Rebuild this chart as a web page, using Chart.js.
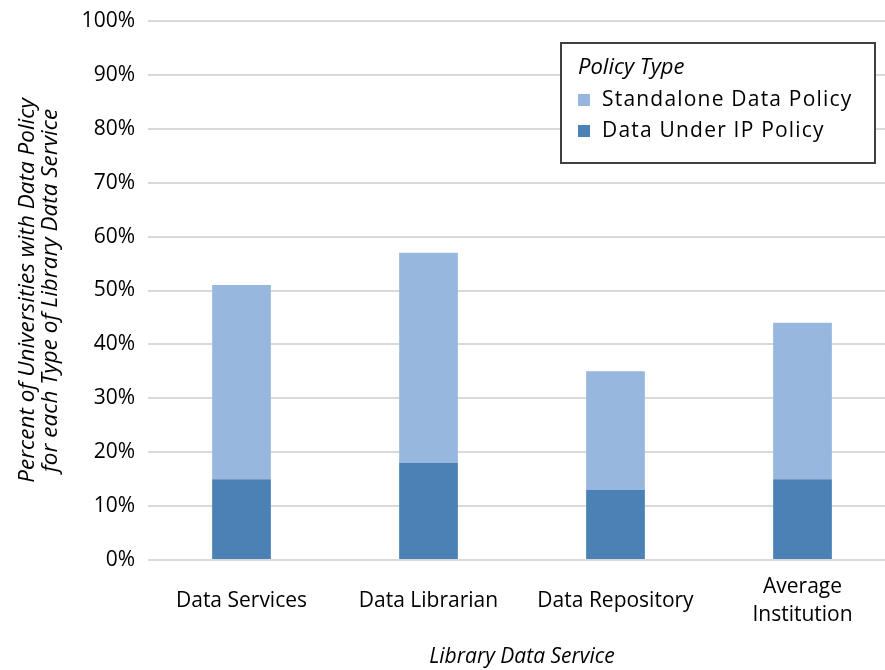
<!DOCTYPE html>
<html>
<head>
<meta charset="utf-8">
<script src="https://cdn.jsdelivr.net/npm/chart.js@4.4.1/dist/chart.umd.min.js"></script>
<style>
  html, body { margin: 0; padding: 0; background: #fff; }
  #wrap { width: 885px; height: 670px; overflow: hidden; }
  #box { width: 896px; height: 670px; position: relative; }
</style>
</head>
<body>
<div id="wrap"><div id="box"><canvas id="policyChart"></canvas></div></div>
<script>
// data (percent of universities)
const services = ['Data Services', 'Data Librarian', 'Data Repository', ['Average', 'Institution']];
const underIpPolicy = [15, 18, 13, 15];
const standalonePolicy = [36, 39, 22, 29];
const yTicks = [0, 10, 20, 30, 40, 50, 60, 70, 80, 90, 100];

const darkBlue = '#4b81b5';
const lightBlue = '#98b7de';
const fontName = "'Open Sans', sans-serif";

// boxed legend drawn inside the plot, like the original
const legendBox = {
  id: 'legendBox',
  afterDraw(chart) {
    const ctx = chart.ctx;
    ctx.save();
    ctx.fillStyle = '#fff';
    ctx.fillRect(561, 43, 314, 120);
    ctx.strokeStyle = '#404040';
    ctx.lineWidth = 2;
    ctx.strokeRect(561, 43, 314, 120);

    ctx.fillStyle = '#000';
    ctx.textBaseline = 'middle';
    ctx.textAlign = 'left';
    ctx.font = 'italic 22px ' + fontName;
    ctx.fillText('Policy Type', 578, 68);

    const items = [chart.data.datasets[1], chart.data.datasets[0]];
    const rows = [100, 131];
    ctx.font = '21px ' + fontName;
    ctx.letterSpacing = '1.2px';
    items.forEach((ds, i) => {
      ctx.fillStyle = ds.backgroundColor;
      ctx.fillRect(578, rows[i] - 6, 12, 12);
      ctx.fillStyle = '#000';
      ctx.fillText(ds.label, 602, rows[i]);
    });
    ctx.restore();
  }
};

const ctx = document.getElementById('policyChart').getContext('2d');
const policyChart = new Chart(ctx, {
  type: 'bar',
  data: {
    labels: services,
    datasets: [{
      label: 'Data Under IP Policy',
      data: underIpPolicy,
      backgroundColor: darkBlue,
      borderWidth: 0,
      barPercentage: 0.314,
      categoryPercentage: 1
    }, {
      label: 'Standalone Data Policy',
      data: standalonePolicy,
      backgroundColor: lightBlue,
      borderWidth: 0,
      barPercentage: 0.314,
      categoryPercentage: 1
    }]
  },
  options: {
    responsive: true,
    maintainAspectRatio: false,
    animation: false,
    layout: { padding: 0 },
    plugins: {
      legend: { display: false },
      tooltip: { enabled: false }
    },
    scales: {
      x: {
        stacked: true,
        grid: { display: false, drawTicks: false },
        border: { display: false },
        ticks: {
          color: '#000',
          font: { family: fontName, size: 21, lineHeight: 1.33 },
          padding: 27,
          crossAlign: 'center',
          maxRotation: 0,
          autoSkip: false
        },
        title: {
          display: true,
          text: 'Library Data Service',
          color: '#000',
          font: { family: fontName, size: 21, style: 'italic' },
          padding: { top: 0, bottom: 0 }
        },
        afterFit: (s) => { s.height = 110; }
      },
      y: {
        stacked: true,
        min: 0,
        max: 100,
        afterBuildTicks: (s) => { s.ticks = yTicks.map(v => ({ value: v })); },
        grid: { color: '#d9d9d9', lineWidth: 2, drawTicks: false },
        border: { display: false },
        ticks: {
          color: '#000',
          font: { family: fontName, size: 21 },
          padding: 13,
          callback: (v) => v + '%'
        },
        title: {
          display: true,
          text: ['Percent of Universities with Data Policy', 'for each Type of Library Data Service'],
          color: '#000',
          font: { family: fontName, size: 22.5, style: 'italic', lineHeight: 1.03 },
          padding: { top: 16, bottom: 0 }
        },
        afterFit: (s) => { s.width = 148; s.paddingTop = 21; s.paddingBottom = 0; }
      }
    }
  },
  plugins: [legendBox]
});
</script>
</body>
</html>
